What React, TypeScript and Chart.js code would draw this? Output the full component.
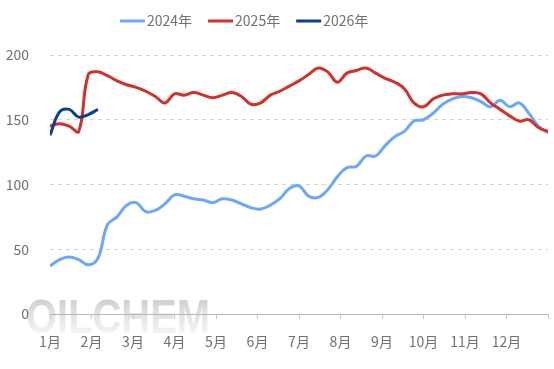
import { useEffect, useRef } from 'react';
import { Chart, registerables } from 'chart.js';

Chart.register(...registerables);

const monthLabels = ['1月', '2月', '3月', '4月', '5月', '6月', '7月', '8月', '9月', '10月', '11月', '12月'];
const yTickValues = [0, 50, 100, 150, 200];
const seriesNames = ['2024年', '2025年', '2026年'];
const seriesColors = ['#6aa8ff', '#d4302a', '#0d3f8c'];
const WEEKS_IN_YEAR = 52;

const values2024 = [
  37, 42, 44, 42, 38, 43, 69, 75, 84, 86,
  79, 80, 85, 92, 91, 89, 88, 86, 89, 88,
  85, 82, 81, 84, 89, 97, 99, 91, 90, 96,
  106, 113, 114, 122, 122, 130, 137, 141, 149, 150,
  155, 162, 166, 168, 167, 164, 160, 165, 160, 163,
  155, 145, 140,
];
const values2025 = [
  145, 147, 145, 141, 185, 187, 184, 180, 177, 175,
  172, 168, 163, 170, 169, 171, 169, 167, 169, 171,
  168, 162, 163, 169, 172, 176, 180, 185, 190, 187,
  179, 186, 188, 190, 186, 182, 179, 174, 163, 160,
  166, 169, 170, 170, 171, 170, 163, 158, 153, 149,
  150, 144, 141,
];
const values2026 = [138, 156, 158, 152, 154, 158];

const FONT_FAMILY = '"Noto Sans CJK SC", "Noto Sans", sans-serif';
const TEXT_COLOR = '#707070';

const toPoints = (arr: number[]) => arr.map((v, i) => ({ x: i, y: v }));

const legendPlugin = {
  id: 'customLegend',
  afterDraw(chart: any) {
    const ctx = chart.ctx as CanvasRenderingContext2D;
    ctx.save();
    ctx.font = `14px ${FONT_FAMILY}`;
    ctx.textBaseline = 'middle';
    let x = 120;
    const y = 21;
    chart.data.datasets.forEach((ds: any) => {
      ctx.fillStyle = ds.borderColor;
      ctx.fillRect(x, y - 1.5, 25, 3);
      x += 27;
      ctx.fillStyle = TEXT_COLOR;
      ctx.fillText(ds.label, x, y);
      x += ctx.measureText(ds.label).width + 16;
    });
    ctx.restore();
  },
};

const watermarkPlugin = {
  id: 'watermark',
  beforeDraw(chart: any) {
    const ctx = chart.ctx as CanvasRenderingContext2D;
    ctx.save();
    const g = ctx.createLinearGradient(0, 297, 0, 336);
    g.addColorStop(0, 'rgba(195,195,195,0.85)');
    g.addColorStop(1, 'rgba(240,240,240,0.6)');
    ctx.fillStyle = g;
    ctx.font = 'bold 48px "Liberation Sans", Arial, sans-serif';
    ctx.textBaseline = 'alphabetic';
    ctx.fillText('OILCHEM', 26, 333, 184);
    ctx.restore();
  },
};

export default function App() {
  const ref = useRef<HTMLCanvasElement>(null);

  useEffect(() => {
    document.body.style.margin = '0';
    const canvas = ref.current;
    if (!canvas) return;
    const chart = new Chart(canvas, {
      type: 'line',
      data: {
        datasets: [
          { label: seriesNames[0], data: toPoints(values2024), borderColor: seriesColors[0], backgroundColor: seriesColors[0], order: 3 },
          { label: seriesNames[1], data: toPoints(values2025), borderColor: seriesColors[1], backgroundColor: seriesColors[1], order: 2 },
          { label: seriesNames[2], data: toPoints(values2026), borderColor: seriesColors[2], backgroundColor: seriesColors[2], order: 1 },
        ],
      },
      options: {
        animation: false,
        responsive: false,
        maintainAspectRatio: false,
        elements: {
          point: { radius: 0 },
          line: { borderWidth: 3, tension: 0.4, fill: false },
        },
        layout: { padding: { left: 0, right: 6, top: 55, bottom: 0 } },
        plugins: {
          legend: { display: false },
          tooltip: { enabled: false },
        },
        scales: {
          x: {
            type: 'linear',
            min: 0,
            max: WEEKS_IN_YEAR,
            afterBuildTicks: (s: any) => {
              s.ticks = monthLabels
                .map((_, i) => ({ value: (i * WEEKS_IN_YEAR) / monthLabels.length }))
                .concat([{ value: WEEKS_IN_YEAR }]);
            },
            ticks: {
              autoSkip: false,
              maxRotation: 0,
              padding: 14,
              color: TEXT_COLOR,
              font: { size: 14, family: FONT_FAMILY },
              callback: (_v: any, i: number) => monthLabels[i] ?? '',
            },
            grid: { drawOnChartArea: false, drawTicks: true, tickLength: 5, color: '#c8c8c8' },
            border: { display: true, color: '#b8b8b8', width: 1 },
            afterFit: (s: any) => {
              s.height = 55;
              s.paddingLeft = 0;
              s.paddingRight = 0;
            },
          },
          y: {
            min: 0,
            max: 200,
            afterBuildTicks: (s: any) => {
              s.ticks = yTickValues.map((v) => ({ value: v }));
            },
            ticks: {
              padding: 21,
              color: TEXT_COLOR,
              font: { size: 14, family: FONT_FAMILY },
            },
            grid: { color: '#d4d4d4', drawTicks: false },
            border: { display: false, dash: [4, 4] },
            afterFit: (s: any) => {
              s.width = 50;
              s.paddingTop = 0;
              s.paddingBottom = 0;
            },
          },
        },
      },
      plugins: [legendPlugin, watermarkPlugin],
    });
    return () => chart.destroy();
  }, []);

  return (
    <div style={{ width: 554, height: 369 }}>
      <canvas ref={ref} width={554} height={369} style={{ display: 'block', width: 554, height: 369 }} />
    </div>
  );
}
